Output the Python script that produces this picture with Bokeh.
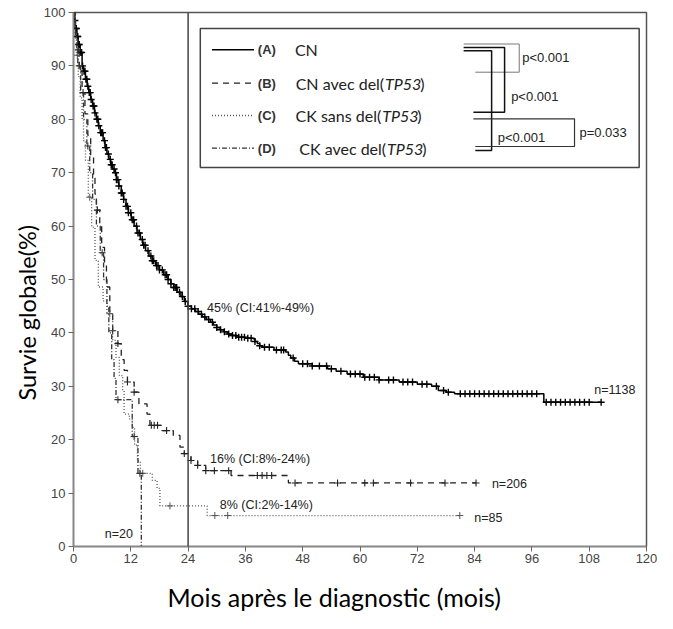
import numpy as np
from bokeh.plotting import figure
from bokeh.models import Span, Title, FixedTicker, Range1d, LinearAxis
from bokeh.core.properties import value
from bokeh.embed import file_html
from bokeh.resources import INLINE

# ---------------- data ----------------
x_ticks = [0, 12, 24, 36, 48, 60, 72, 84, 96, 108, 120]
y_ticks = [0, 10, 20, 30, 40, 50, 60, 70, 80, 90, 100]
landmark_month = 24

# (A) CN  n=1138
a_times = [0, 0.2, 0.4, 0.7, 1.0, 1.4, 1.8, 2.1, 2.5, 2.85, 3.2, 3.6, 4.0, 4.4, 4.8, 5.2, 5.6,
           6.2, 6.6, 7.0, 7.4, 7.8, 8.2, 8.6, 9.0, 9.5, 10.0, 10.5, 11.0, 11.5, 12.1, 12.7,
           13.3, 14.0, 14.5, 15.1, 15.8, 16.5, 17.2, 18.0, 18.9, 19.8, 20.4, 21.0, 21.7,
           22.5, 23.2, 24.0, 24.7, 25.5, 26.2, 27.0, 27.8, 28.7, 29.3, 30.0, 30.7, 31.5,
           32.2, 33.0, 34.2, 36.0, 37.6, 38.0, 38.5, 39.0, 39.6, 42.0, 44.4, 45.0, 45.5,
           46.3, 47.1, 50.0, 53.2, 55.0, 57.3, 60.7, 64.0, 68.2, 72.0, 75.0, 76.4, 78.0,
           79.8, 98.5]
a_surv = [100, 98.5, 97, 95.5, 94, 92.5, 90, 89, 87.5, 86.2, 85, 83.7, 82.5, 81.2, 80, 78.8, 77.5,
          76, 74.7, 73.5, 72.5, 71.5, 70.7, 70, 68.7, 67.5, 66.2, 65, 63.7, 62.5, 61.2, 60,
          58.7, 57.5, 56.4, 55.4, 54.4, 53.5, 52.6, 51.8, 50.9, 50, 49.2, 48.5, 47.6,
          46.8, 45.9, 45, 44.5, 44, 43.5, 43, 42.5, 42, 41.5, 41, 40.6, 40.2,
          39.8, 39.5, 39.2, 39.0, 38.9, 38.4, 38.0, 37.6, 37.3, 36.8, 36.4, 35.8, 35.3,
          34.7, 34.2, 33.8, 33.3, 32.8, 32.3, 31.7, 31.2, 30.8, 30.4, 30.0, 29.2, 28.9,
          28.6, 27.0]
a_end = 110.5
a_censor = [0.3, 0.5, 0.6, 0.8, 0.9, 1.1, 1.2, 1.5, 1.7, 1.9, 2.2, 2.4, 2.6, 2.8, 3.0, 3.3, 3.5,
            3.7, 4.1, 4.3, 4.5, 4.9, 5.1, 5.3, 5.7, 5.9, 6.1, 6.5, 6.7, 6.9, 7.3, 7.7, 7.9,
            8.1, 8.5, 8.8, 9.0, 9.3, 9.5, 10.0, 10.2, 10.5, 11.0, 11.3, 11.5, 12.0, 12.3,
            12.6, 13.2, 13.5, 13.8, 14.4, 14.7, 15.0, 15.6, 16.2, 16.5, 16.8, 17.4, 17.7,
            18.0, 18.6, 19.2, 19.5, 19.8, 20.4, 21.0, 21.3, 21.6, 22.2, 22.8, 23.4, 24.0,
            24.7, 25.4, 26.1, 26.8, 27.5, 28.3, 29.1, 30.0, 30.8, 31.6, 32.5, 33.3, 34.0,
            34.6, 35.2, 35.8, 36.5, 37.2, 38.0, 39.0, 40.0, 41.0, 42.5, 43.5, 44.0, 46.0,
            48.0, 49.0, 50.0, 51.5, 53.0, 54.0, 56.0, 58.0, 59.0, 60.0, 61.0, 62.0, 63.0,
            64.0, 66.0, 67.0, 69.0, 70.0, 71.0, 73.0, 74.0, 76.0, 77.5, 78.5, 81.0, 82.0,
            83.0, 84.0, 85.0, 86.0, 87.0, 88.0, 89.0, 90.0, 91.0, 92.0, 93.0, 94.0, 95.0,
            96.0, 97.0, 99.0, 100.0, 101.0, 102.0, 103.0, 104.0, 105.0, 106.0, 107.0,
            108.0, 110.5]

# (B) CN avec del(TP53)  n=206
b_times = [0, 0.3, 0.7, 1.2, 1.8, 2.4, 3.0, 3.6, 4.2, 4.5, 4.8, 5.5, 5.9, 6.5, 6.9, 7.6, 8.2,
           9.3, 10.0, 10.6, 11.3, 12.7, 13.7, 15.4, 16.0, 18.5, 20.9, 22.3, 23.2, 24.6, 26.0,
           27.7, 33.0, 45.0]
b_surv = [100, 97, 93, 89, 85, 81, 77, 73, 69, 66, 63, 60, 56, 53, 48.6, 44, 40.4,
          38, 35, 33, 30.8, 28.9, 26.7, 24.8, 22.7, 21.7, 20.8, 18.6, 17.4, 16.1, 15.2,
          14.2, 13.3, 11.9]
b_end = 84.3
b_censor = [1.0, 2.0, 5.0, 8.2, 9.3, 11.3, 12.7, 16.3, 16.9, 17.6, 19.5, 23.2, 24.6, 26.0,
            27.7, 29.5, 32.5, 38.5, 39.5, 40.5, 41.5, 46.4, 55.3, 61.0, 62.8, 70.6, 77.8, 84.3]

# (C) CK sans del(TP53)  n=85
c_times = [0, 0.3, 0.6, 1.0, 1.4, 1.8, 2.1, 2.5, 3.1, 3.8, 4.5, 5.2, 6.2, 7.0, 8.2, 8.9, 9.6,
           10.3, 10.6, 11.7, 12.3, 12.8, 13.4, 14.0, 16.5, 17.5, 18.1, 28.0]
c_surv = [100, 96, 92, 88, 84, 80, 76, 72.3, 65.4, 59.8, 53.6, 48.6, 46, 43.6, 38.6, 35.4, 32,
          29.2, 24.8, 23.9, 22.3, 19, 16, 13.7, 12.4, 10.9, 7.6, 5.8]
c_end = 80.9
c_censor = [0.8, 3.4, 7.6, 14.5, 20.2, 29.6, 32.3, 80.9]

# (D) CK avec del(TP53)  n=20
d_times = [0, 0.4, 0.9, 1.5, 2.1, 2.8, 3.4, 4.0, 4.8, 5.6, 6.3, 7.0, 7.4, 8.0, 8.5, 8.9,
           12.3, 13.5, 14.2]
d_surv = [100, 95, 90, 85, 80, 75, 70, 65, 60, 55, 50, 45, 40, 35, 31.5, 27.5,
          20.6, 13.7, 0]
d_censor = [1.2, 3.0, 6.0, 9.3, 12.7, 13.9]

series_names = ["CN", "CN avec del(", "CK sans del(", "CK avec del("]
series_letters = ["(A)", "(B)", "(C)", "(D)"]
n_labels = ["n=1138", "n=206", "n=85", "n=20"]
ci_labels = ["45% (CI:41%-49%)", "16% (CI:8%-24%)", "8% (CI:2%-14%)"]
p_labels = ["p<0.001", "p<0.001", "p<0.001", "p=0.033"]

# ---------------- helpers ----------------
def rx(px):  # reference-picture pixel -> months
    return (px - 73) * 120 / 587.5

def ry(py):  # reference-picture pixel -> percent
    return (546 - py) * 100 / 534

def surv_at(times, surv, t):
    idx = np.searchsorted(np.array(times), np.array(t), side="right") - 1
    return np.array(surv)[idx]

p = figure(width=657, height=613, output_backend="svg", toolbar_location=None,
           x_range=Range1d(0, 120), y_range=Range1d(0, 100),
           min_border_left=73, min_border_right=11, min_border_top=12, min_border_bottom=67)
p.background_fill_color = "white"
p.border_fill_color = "white"
p.outline_line_color = "#555555"
p.outline_line_width = 1.5
p.xgrid.visible = False
p.ygrid.visible = False

for ax, ticks in ((p.xaxis, x_ticks), (p.yaxis, y_ticks)):
    ax.ticker = FixedTicker(ticks=ticks)
    ax.minor_tick_line_color = None
    ax.major_tick_out = 5
    ax.major_tick_in = 0
    ax.axis_line_color = "#888888"
    ax.axis_line_width = 1.5
    ax.major_tick_line_color = "#666666"
    ax.major_label_text_font = "Liberation Sans"
    ax.major_label_text_font_size = "13px"
    ax.major_label_text_color = "#444444"
p.xaxis.major_label_standoff = 2
p.yaxis.major_label_standoff = 3

# invisible spacer below the x axis (one hidden tick, empty label) to push the title down
spacer = LinearAxis(ticker=FixedTicker(ticks=[60]), axis_line_color=None,
                    major_tick_line_color=None, minor_tick_line_color=None,
                    major_tick_out=14, major_tick_in=0, minor_tick_out=0,
                    major_label_standoff=0, major_label_overrides={60: ""})
p.add_layout(spacer, "below")

p.add_layout(Span(location=landmark_month, dimension="height", line_color="#444444", line_width=1.5))

styles = {
    "A": dict(line_color="black", line_width=1.5, line_dash="solid"),
    "B": dict(line_color="#222222", line_width=1.3, line_dash="6 5"),
    "C": dict(line_color="#555555", line_width=1.3, line_dash="1 2"),
    "D": dict(line_color="#333333", line_width=1.3, line_dash="5 2 1 2"),
}

curves = [
    ("A", a_times + [a_end], a_surv + [a_surv[-1]], a_times, a_surv, a_censor, 1.4),
    ("B", b_times + [b_end], b_surv + [b_surv[-1]], b_times, b_surv, b_censor, 1.1),
    ("C", c_times + [c_end], c_surv + [c_surv[-1]], c_times, c_surv, c_censor, 1.0),
    ("D", d_times, d_surv, d_times, d_surv, d_censor, 1.1),
]
for key, xs, ys, t, s, cens, mw in curves:
    p.step(xs, ys, mode="after", **styles[key])
    p.scatter(cens, surv_at(t, s, cens), marker="cross", size=7,
              line_color=styles[key]["line_color"], line_width=mw)

txt = dict(text_font=value("Liberation Sans"), text_font_size=value("12.5px"),
           text_color="#222222", text_baseline="middle", text_align="left")
p.text(x=[rx(210), rx(213), rx(223)], y=[ry(307), ry(458), ry(504)], text=ci_labels, **txt)
p.text(x=[rx(607), rx(502), rx(484), rx(105)], y=[ry(389), ry(483), ry(517), ry(533)],
       text=n_labels, **txt)

# legend box
p.quad(left=rx(203), right=rx(653), top=ry(28), bottom=ry(167),
       fill_color="white", line_color="#444444", line_width=1.5)
rows = [49.3, 82.7, 115.0, 147.7]
for key, py in zip("ABCD", rows):
    p.line([rx(215), rx(258)], [ry(py), ry(py)], **styles[key])
p.text(x=[rx(262)] * 4, y=[ry(r) for r in rows], text=series_letters,
       text_font=value("Liberation Sans"), text_font_size=value("13px"), text_font_style="bold",
       text_color="#333333", text_baseline="middle", text_align="left")
p.text(x=[rx(300)], y=[ry(rows[0])], text=[series_names[0]],
       text_font=value("Lato"), text_font_size=value("16px"), text_color="#222222",
       text_baseline="middle", text_align="left")
tp_x = [391.5, 388.5, 393.5]
p.text(x=[rx(v) for v in tp_x], y=[ry(r) for r in rows[1:]], text=series_names[1:],
       text_font=value("Lato"), text_font_size=value("16px"), text_color="#222222",
       text_baseline="middle", text_align="right")
p.text(x=[rx(v + 1) for v in tp_x], y=[ry(r) for r in rows[1:]], text=["TP53"] * 3,
       text_font=value("Lato"), text_font_size=value("16px"), text_font_style="italic",
       text_color="#222222", text_baseline="middle", text_align="left")
p.text(x=[rx(v + 37) for v in tp_x], y=[ry(r) for r in rows[1:]], text=[")"] * 3,
       text_font=value("Lato"), text_font_size=value("16px"), text_color="#222222",
       text_baseline="middle", text_align="left")

# p-value brackets
brackets = [
    ([473, 530, 530, 485], [43.5, 43.5, 71.7, 71.7], "#777777", 1.0),
    ([473, 515, 515, 483], [47.0, 47.0, 111.7, 111.7], "#111111", 1.5),
    ([473, 501.7, 501.7, 485], [50.3, 50.3, 150.0, 150.0], "#111111", 1.5),
    ([483, 586.7, 586.7, 485], [118.3, 118.3, 146.0, 146.0], "#333333", 1.2),
]
for bx, by, col, lw in brackets:
    p.line([rx(v) for v in bx], [ry(v) for v in by], line_color=col, line_width=lw)
p.text(x=[rx(533), rx(521.7), rx(508), rx(591.7)], y=[ry(56.7), ry(96), ry(136.7), ry(131.7)],
       text=p_labels, text_font=value("Liberation Sans"), text_font_size=value("13px"),
       text_color="#222222", text_baseline="middle", text_align="left")

# axis titles (as panel titles so they can be offset like the original)
p.add_layout(Title(text="Mois après le diagnostic (mois)", align="left", offset=94,
                   text_font="Lato", text_font_size="25px", text_font_style="normal",
                   text_color="black", standoff=0), "below")
p.add_layout(Title(text="Survie globale(%)", align="left", offset=146,
                   text_font="Lato", text_font_size="23.5px", text_font_style="normal",
                   text_color="black", standoff=0), "left")

open("out.html", "w").write(file_html(p, INLINE))
